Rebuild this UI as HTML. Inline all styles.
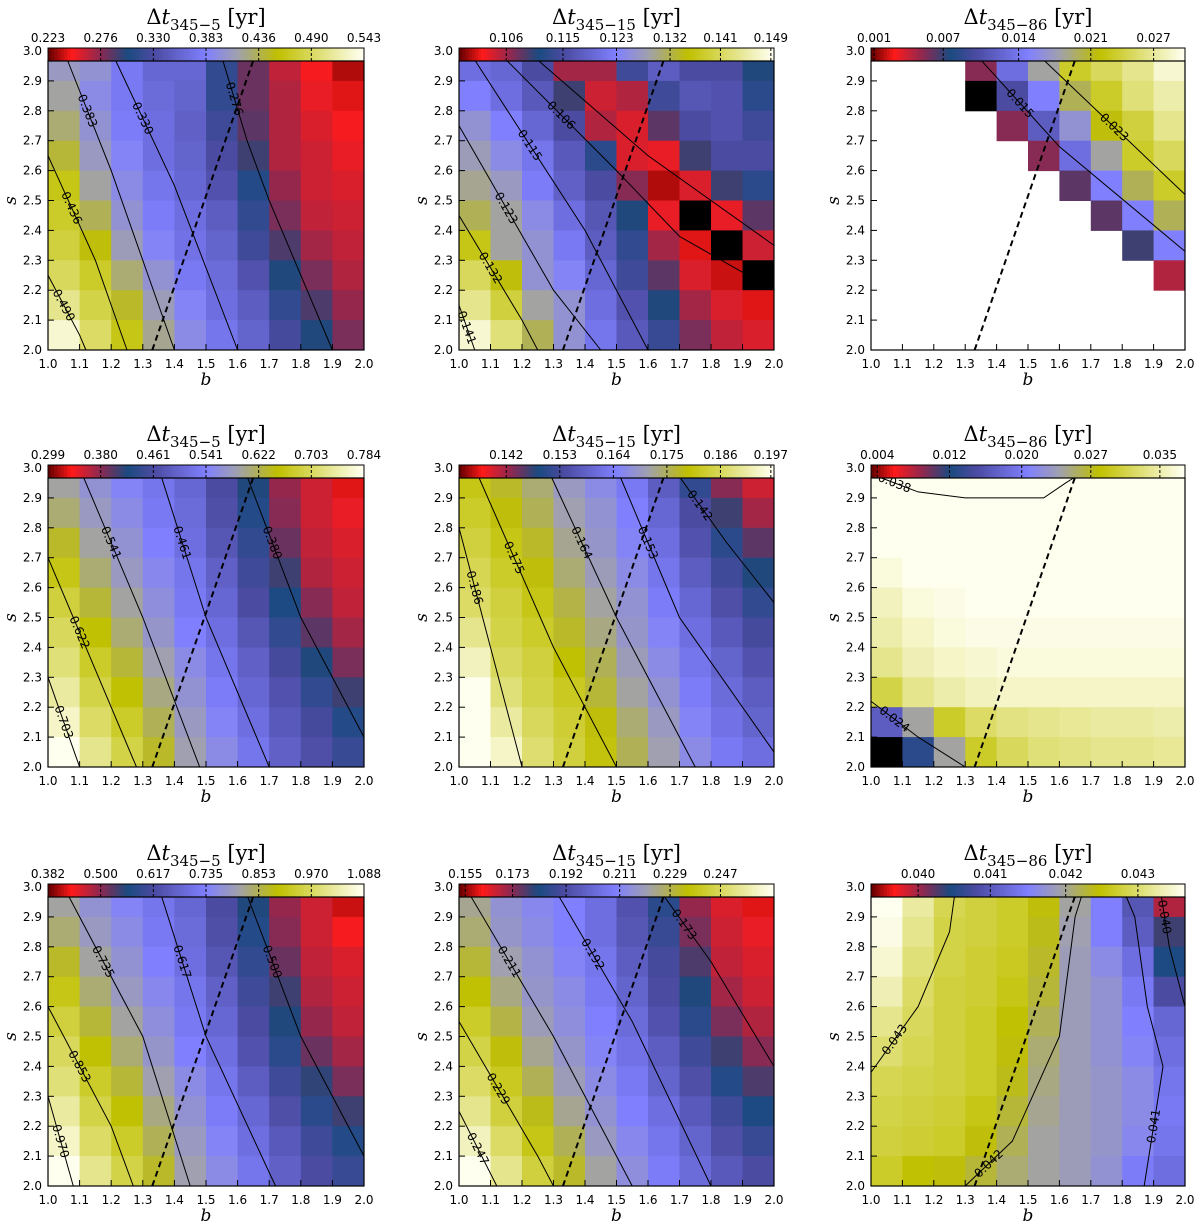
<!DOCTYPE html>
<html><head><meta charset="utf-8"><style>
html,body{margin:0;padding:0;background:#fff;}
svg{display:block;}
.tk{font-family:"DejaVu Sans","Liberation Sans",sans-serif;font-size:12px;fill:#000;}
.ttl{font-family:"DejaVu Serif","Liberation Serif",serif;font-size:21px;fill:#000;}
.ax{font-family:"DejaVu Serif","Liberation Serif",serif;font-style:italic;font-size:17px;fill:#000;}
.cl{font-family:"DejaVu Sans","Liberation Sans",sans-serif;font-size:12px;fill:#000;}
</style></head><body>
<svg id="fig" width="1200" height="1230" xmlns="http://www.w3.org/2000/svg"></svg>
<script>
// ---- data (grid rows from s=3.0 (top) down to s=2.0; columns b=1.0..2.0; 0..9 colormap level, -1 black, null no data)
const bValues=[1.0,1.1,1.2,1.3,1.4,1.5,1.6,1.7,1.8,1.9,2.0];
const sValues=[2.0,2.1,2.2,2.3,2.4,2.5,2.6,2.7,2.8,2.9,3.0];
const n=null;
const grid1=[[5.2,5,4.3,3.8,3.8,2.6,1.7,1.1,0.7,0.3],[5.5,4.8,4.3,3.9,3.7,2.6,1.7,1.2,0.8,0.5],[5.8,5,4.4,4,3.6,2.8,1.8,1.2,0.9,0.7],[6.2,5.2,4.6,4,3.7,3,2,1.2,1,0.8],[6.8,5.5,4.8,4.2,3.8,3.2,2.4,1.4,1,0.9],[7,6,5,4.4,4,3.5,2.6,1.6,1.1,1],[7.2,6.5,5.3,4.6,4.1,3.7,2.8,1.9,1.3,1.1],[7.5,7,5.8,5,4.3,3.9,3.2,2.2,1.6,1.2],[8,7.3,6.3,5.3,4.6,4,3.5,2.6,1.9,1.4],[8.7,7.6,6.8,5.6,4.8,4.2,3.7,2.9,2.2,1.6]];
const grid2=[[4,3.8,3,1.3,1.3,2.8,3.5,3,3,2.2],[4.5,4,3.4,2,1,1.2,2.8,3.3,3.2,2.5],[5,4.5,3.8,3,1.2,0.9,1.8,3,3.2,2.8],[5.3,4.8,4.2,3.4,2.5,0.9,0.8,2,3,3],[5.6,5.2,4.4,3.6,3,1.5,0.3,0.9,2,2.5],[6,5.5,4.8,4,3.3,2.2,0.8,-1,0.8,1.8],[6.8,5.5,5,4.3,3.5,2.6,1.3,0.5,-1,1],[7.5,6.5,5,4.6,3.8,2.8,1.8,0.9,0.4,-1],[8,7.2,5.5,5,4,3.2,2.2,1.3,0.9,0.5],[8.7,7.8,6,5,4.2,3.4,2.7,1.6,1.1,0.9]];
const grid3=[[n,n,n,1.5,4,5.5,7,7.5,8,8.7],[n,n,n,-1,3,4.5,6,7,7.8,8.3],[n,n,n,n,1.5,3.5,5,6.5,7.2,8],[n,n,n,n,n,1.5,4,5.5,7,7.5],[n,n,n,n,n,n,1.8,4.5,6,7],[n,n,n,n,n,n,n,1.8,4.5,6],[n,n,n,n,n,n,n,n,2,4.5],[n,n,n,n,n,n,n,n,n,1.2],[n,n,n,n,n,n,n,n,n,n],[n,n,n,n,n,n,n,n,n,n]];
const grid4=[[5.5,5,4.6,4.2,3.8,3,2.2,1.4,1,0.5],[5.8,5.2,4.8,4.3,3.9,3.1,2.4,1.5,1,0.8],[6.3,5.5,5,4.5,4,3.3,2.6,1.7,1.1,0.9],[6.8,5.8,5.2,4.7,4.2,3.6,2.8,2,1.2,1],[7.2,6.2,5.5,4.9,4.3,3.8,3,2.3,1.5,1.1],[7.5,6.6,5.8,5.1,4.5,4,3.3,2.6,1.8,1.3],[7.8,7,6.2,5.4,4.8,4.2,3.6,2.9,2.2,1.6],[8.2,7.3,6.6,5.7,5,4.4,3.8,3.2,2.6,2],[8.6,7.6,7,6,5.2,4.6,4,3.4,2.9,2.4],[9,8,7.3,6.3,5.4,4.8,4.2,3.6,3.1,2.7]];
const grid5=[[6.8,6.3,5.8,5.2,4.8,4.3,3.5,2.6,1.5,1],[7,6.5,6,5.4,5,4.5,3.8,3,2,1.3],[7.2,6.8,6.3,5.6,5.1,4.6,4,3.2,2.5,1.8],[7.4,7,6.5,5.8,5.3,4.8,4.2,3.5,2.8,2.2],[7.6,7.2,6.8,6.1,5.5,5,4.4,3.8,3.1,2.6],[8,7.3,7,6.3,5.7,5.1,4.6,4,3.4,2.9],[8.5,7.5,7.2,6.6,6,5.3,4.8,4.2,3.7,3.2],[9,7.8,7.3,6.9,6.2,5.5,5,4.4,3.9,3.5],[9.2,8.2,7.5,7.1,6.5,5.8,5.2,4.6,4.1,3.7],[9.5,8.6,7.7,7.2,6.7,6,5.4,4.8,4.3,4]];
const grid6=[[9,9,9,9,9,9,9,9,9,9],[9,9,9,9,9,9,9,9,9,9],[9,9,9,9,9,9,9,9,9,9],[8.8,9,9,9,9,9,9,9,9,9],[8.5,8.8,8.9,9,9,9,9,9,9,9],[8.3,8.6,8.8,8.9,8.9,8.9,8.9,8.9,8.9,8.9],[8,8.4,8.6,8.7,8.8,8.8,8.8,8.8,8.8,8.8],[7.3,8,8.3,8.5,8.6,8.6,8.6,8.6,8.6,8.6],[3.5,5.5,7,7.6,7.9,8,8.1,8.2,8.2,8.3],[-1,2.5,5.5,7,7.5,7.8,7.9,8,8,8.1]];
const grid7=[[5.5,5,4.6,4.2,3.8,3,2.2,1.4,1,0.4],[5.8,5.2,4.8,4.3,3.9,3.1,2.4,1.5,1,0.7],[6.3,5.5,5,4.5,4,3.3,2.6,1.7,1.1,0.9],[6.8,5.8,5.2,4.7,4.2,3.6,2.8,2,1.2,1],[7.2,6.2,5.5,4.9,4.3,3.8,3,2.2,1.4,1.1],[7.5,6.6,5.8,5.1,4.5,4,3.2,2.5,1.7,1.3],[7.8,7,6.2,5.4,4.8,4.2,3.5,2.8,2.1,1.6],[8.2,7.3,6.6,5.7,5,4.4,3.8,3.1,2.5,2],[8.6,7.6,7,6,5.2,4.6,4,3.4,2.8,2.4],[9,8,7.3,6.3,5.4,4.8,4.2,3.6,3,2.7]];
const grid8=[[5.6,5,4.7,4.5,4,3.2,2.5,1.4,0.9,0.5],[5.8,5.1,4.8,4.5,4,3.3,2.7,1.6,1,0.8],[6.2,5.4,5,4.6,4.2,3.5,2.9,1.9,1.1,0.9],[6.6,5.7,5.1,4.8,4.3,3.7,3,2.2,1.3,1],[7,6.1,5.3,4.9,4.5,3.9,3.2,2.5,1.6,1.2],[7.3,6.5,5.6,5.1,4.6,4.1,3.5,2.8,2,1.5],[7.6,6.9,6,5.3,4.8,4.3,3.7,3.1,2.4,1.9],[8,7.2,6.4,5.6,5,4.5,4,3.4,2.8,2.3],[8.5,7.6,6.8,6,5.2,4.7,4.2,3.7,3.1,2.7],[9,8,7.2,6.3,5.5,4.9,4.4,3.9,3.4,3]];
const grid9=[[9,8.2,7.4,7.2,7,6.5,5.5,4.5,3.3,1.2],[8.9,8,7.3,7.2,7,6.4,5.4,4.5,3.5,2],[8.7,7.8,7.3,7.1,6.9,6.3,5.3,4.8,4,2.3],[8.4,7.6,7.2,7.1,6.8,6.2,5.3,5,4.3,3],[8,7.5,7.2,7,6.6,6,5.3,5,4.5,3.8],[7.7,7.4,7.2,7,6.5,5.8,5.3,5,4.6,4],[7.4,7.3,7.2,7,6.4,5.7,5.3,5.1,4.8,4.2],[7.3,7.2,7.1,6.8,6.2,5.6,5.3,5.1,4.8,4.3],[7.2,7.1,7,6.5,6,5.5,5.3,5.1,4.7,4.2],[7,6.6,6.5,6.2,5.8,5.5,5.3,5,4.4,4]];
const grids=[grid1,grid2,grid3,grid4,grid5,grid6,grid7,grid8,grid9];
const subs=["345−5","345−15","345−86"];
const cbLabels=[
 ["0.223","0.276","0.330","0.383","0.436","0.490","0.543"],
 ["0.106","0.115","0.123","0.132","0.141","0.149"],
 ["0.001","0.007","0.014","0.021","0.027"],
 ["0.299","0.380","0.461","0.541","0.622","0.703","0.784"],
 ["0.142","0.153","0.164","0.175","0.186","0.197"],
 ["0.004","0.012","0.020","0.027","0.035"],
 ["0.382","0.500","0.617","0.735","0.853","0.970","1.088"],
 ["0.155","0.173","0.192","0.211","0.229","0.247"],
 ["0.040","0.041","0.042","0.043"]];
const cbPos=[
 [0,1/6,2/6,3/6,4/6,5/6,1],
 [0.15,0.33,0.5,0.67,0.83,0.99],
 [0.01,0.23,0.47,0.7,0.9],
 [0,1/6,2/6,3/6,4/6,5/6,1],
 [0.15,0.32,0.49,0.66,0.83,0.99],
 [0.02,0.25,0.48,0.7,0.92],
 [0,1/6,2/6,3/6,4/6,5/6,1],
 [0.02,0.17,0.34,0.51,0.67,0.83],
 [0.15,0.38,0.62,0.85]];
const contours=[
 [["0.490",[[1.0,2.25],[1.1,2.05],[1.12,2.0]]],["0.436",[[1.0,2.65],[1.15,2.3],[1.25,2.0]]],["0.383",[[1.05,3.0],[1.2,2.6],[1.4,2.0]]],["0.330",[[1.2,3.0],[1.4,2.55],[1.6,2.0]]],["0.276",[[1.55,2.98],[1.63,2.7],[1.7,2.5],[1.9,2.0]]]],
 [["0.141",[[1.0,2.15],[1.05,2.0]]],["0.132",[[1.0,2.45],[1.2,2.1],[1.25,2.0]]],["0.123",[[1.0,2.75],[1.3,2.2],[1.45,2.0]]],["0.115",[[1.05,2.97],[1.4,2.4],[1.6,2.0]]],["0.106",[[1.15,2.97],[1.5,2.6],[1.7,2.38],[2.0,2.2]]],["",[[1.25,2.97],[1.6,2.65],[1.8,2.5],[2.0,2.35]]]],
 [["0.023",[[1.55,2.97],[2.0,2.52]]],["0.015",[[1.35,2.97],[1.6,2.68],[2.0,2.33]]]],
 [["0.703",[[1.0,2.3],[1.1,2.0]]],["0.622",[[1.0,2.7],[1.2,2.2],[1.28,2.0]]],["0.541",[[1.1,3.0],[1.3,2.5],[1.48,2.0]]],["0.461",[[1.35,3.0],[1.5,2.5],[1.7,2.0]]],["0.380",[[1.62,3.0],[1.8,2.5],[2.0,2.1]]]],
 [["0.186",[[1.0,2.8],[1.1,2.4],[1.2,2.0]]],["0.175",[[1.05,3.0],[1.3,2.4],[1.5,2.0]]],["0.164",[[1.28,3.0],[1.5,2.5],[1.75,2.0]]],["0.153",[[1.5,3.0],[1.7,2.5],[2.0,2.05]]],["0.142",[[1.68,3.0],[1.85,2.75],[2.0,2.55]]]],
 [["0.038",[[1.0,2.98],[1.15,2.92],[1.3,2.9],[1.55,2.9],[1.62,2.95],[1.68,2.99]]],["0.024",[[1.0,2.22],[1.15,2.1],[1.3,2.0]]]],
 [["0.970",[[1.0,2.3],[1.08,2.0]]],["0.853",[[1.0,2.6],[1.2,2.2],[1.27,2.0]]],["0.735",[[1.05,3.0],[1.3,2.5],[1.45,2.0]]],["0.617",[[1.35,3.0],[1.5,2.5],[1.72,2.0]]],["0.500",[[1.62,3.0],[1.8,2.5],[2.0,2.1]]]],
 [["0.247",[[1.0,2.25],[1.12,2.0]]],["0.229",[[1.0,2.55],[1.25,2.1],[1.3,2.0]]],["0.211",[[1.02,3.0],[1.3,2.5],[1.55,2.0]]],["0.192",[[1.3,3.0],[1.55,2.55],[1.8,2.0]]],["0.173",[[1.63,3.0],[1.8,2.75],[2.0,2.4]]]],
 [["0.043",[[1.0,2.38],[1.15,2.6],[1.25,2.85],[1.27,3.0]]],["0.042",[[1.3,2.0],[1.45,2.15],[1.6,2.5],[1.65,2.9],[1.68,3.0]]],["0.041",[[1.87,2.0],[1.93,2.4],[1.88,2.6],[1.84,2.9],[1.8,3.0]]],["0.040",[[1.92,3.0],[1.95,2.8],[2.0,2.6]]]]];
const dashLine=[[1.33,2.0],[1.66,3.0]];

// ---- layout
const colX=[48,459,871], colW=[316,315,314];
const rowB=[350,767,1186], plotH=299;
const stops=[[0,[106,0,0]],[0.07,[255,26,26]],[0.16,[144,40,80]],[0.25,[26,74,128]],[0.33,[74,74,160]],[0.5,[128,128,255]],[0.6,[160,160,176]],[0.73,[192,192,0]],[1,[255,255,240]]];
function cmap(t){t=Math.max(0,Math.min(1,t));for(let i=1;i<stops.length;i++){if(t<=stops[i][0]){const a=stops[i-1],b=stops[i];const f=(t-a[0])/(b[0]-a[0]);const c=a[1].map((v,k)=>Math.round(v+(b[1][k]-v)*f));return `rgb(${c})`;}}return "rgb(255,255,240)";}
const NS="http://www.w3.org/2000/svg";const svg=document.getElementById('fig');
function mk(tag,attrs,parent,txt){const e=document.createElementNS(NS,tag);for(const k in attrs)e.setAttribute(k,attrs[k]);if(txt!==undefined)e.textContent=txt;(parent||svg).appendChild(e);return e;}

for(let p=0;p<9;p++){
 const r=Math.floor(p/3),c=p%3;
 const x0=colX[c],w=colW[c],y1=rowB[r],y0=y1-plotH;
 const xs=b=>x0+(b-1)*w, ys=s=>y1-(s-2)*plotH;
 const g=mk('g',{});
 
 
 const grid=grids[p];
 for(let i=0;i<10;i++)for(let j=0;j<10;j++){
  const v=grid[i][j]; if(v===null)continue;
  const sTop=sValues[10-i], sBot=sValues[9-i];
  const rc=mk('rect',{x:xs(bValues[j]),y:ys(sTop),width:xs(bValues[j+1])-xs(bValues[j])+0.5,height:ys(sBot)-ys(sTop)+0.5,fill:v<0?'#000':cmap(v/9)},g);
  
  
 }
 contours[p].forEach(ct=>{
  const pts=ct[1].map(q=>xs(q[0])+','+ys(q[1])).join(' ');
  const pl=mk('polyline',{points:pts,fill:'none',stroke:'#000','stroke-width':1},g);
  
  
  if(ct[0]){const a=ct[1][0],b=ct[1][1];const mx=(xs(a[0])+xs(b[0]))/2,my=(ys(a[1])+ys(b[1]))/2;
   const ang=Math.atan2(ys(b[1])-ys(a[1]),xs(b[0])-xs(a[0]))*180/Math.PI;const ang2=ang>90?ang-180:(ang<-90?ang+180:ang);
   const t=mk('text',{class:'cl',x:mx,y:my+4,'text-anchor':'middle',transform:`rotate(${ang2} ${mx} ${my})`},g,ct[0]);
   
   }
 });
 const dl=mk('line',{x1:xs(dashLine[0][0]),y1:ys(dashLine[0][1]),x2:xs(dashLine[1][0]),y2:ys(dashLine[1][1]),stroke:'#000','stroke-width':2,'stroke-dasharray':'6,4'},g);
 
 
 const cbY=y0-3,cbH=13;
 for(let k=0;k<100;k++){const cr=mk('rect',{x:x0+k*w/100,y:cbY,width:w/100+0.6,height:cbH,fill:cmap(k/99)},g);
  
  }
 mk('rect',{x:x0,y:cbY,width:w,height:cbH,fill:'none',stroke:'#000','stroke-width':1},g);
 cbLabels[p].forEach((lb,k)=>{const xx=x0+cbPos[p][k]*w;
  mk('line',{x1:xx,y1:cbY,x2:xx,y2:cbY+cbH,stroke:'#000','stroke-width':1,'stroke-dasharray':'3,2'},g);
  const t=mk('text',{class:'tk',x:xx,y:cbY-6,'text-anchor':'middle'},g,lb);
  
  });
 const tt=mk('text',{class:'ttl',x:x0+w/2,y:y0-27,'text-anchor':'middle'},g);
 
 
 mk('tspan',{},tt,'Δ');mk('tspan',{'font-style':'italic'},tt,'t');mk('tspan',{dy:6,'font-size':15},tt,subs[c]);mk('tspan',{dy:-6},tt,' [yr]');
 mk('rect',{x:x0,y:y0+10,width:w,height:plotH-10,fill:'none',stroke:'#000','stroke-width':1.2},g);
 bValues.forEach(b=>{const xx=xs(b);mk('line',{x1:xx,y1:y1,x2:xx,y2:y1-6,stroke:'#000'},g);
  const t=mk('text',{class:'tk',x:xx,y:y1+18,'text-anchor':'middle'},g,b.toFixed(1));
  
  });
 sValues.forEach(s=>{const yy=ys(s);if(s<3)mk('line',{x1:x0,y1:yy,x2:x0+6,y2:yy,stroke:'#000'},g);
  const t=mk('text',{class:'tk',x:x0-6,y:yy+4,'text-anchor':'end'},g,s.toFixed(1));
  
  });
 const xl=mk('text',{class:'ax',x:x0+w/2,y:y1+35,'text-anchor':'middle'},g,'b');
 
 
 const yl=mk('text',{class:'ax',x:x0-32,y:(y0+y1)/2,'text-anchor':'middle',transform:`rotate(-90 ${x0-32} ${(y0+y1)/2})`},g,'s');
 
 
}
</script>
</body></html>
